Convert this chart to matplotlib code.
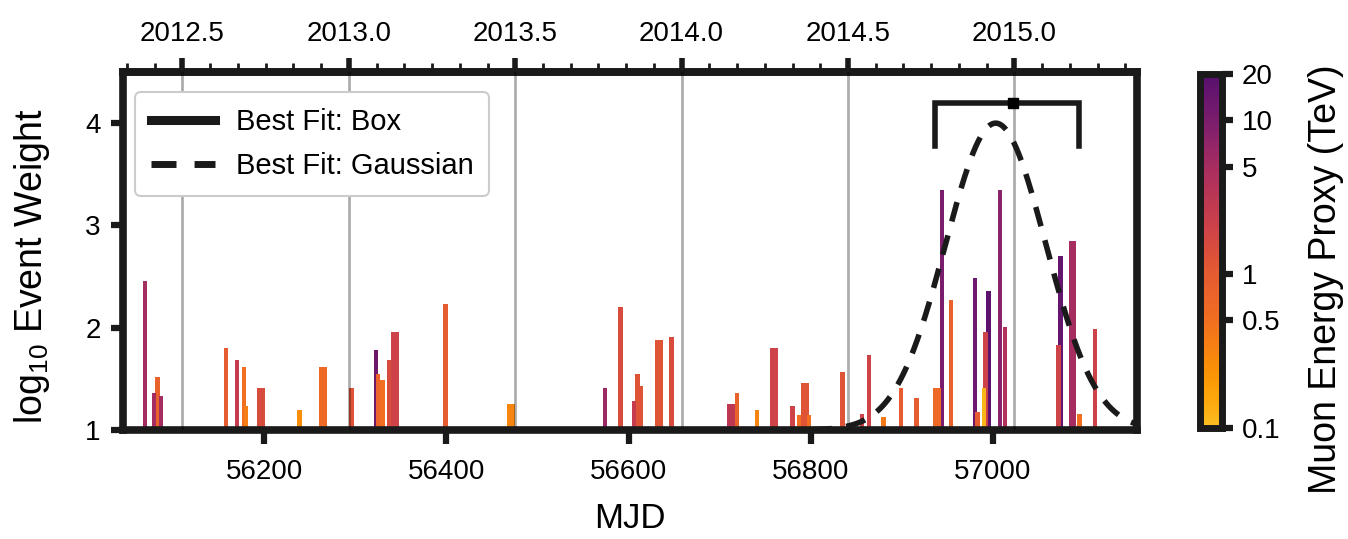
import numpy as np
import matplotlib
matplotlib.use("Agg")
import matplotlib.pyplot as plt
from matplotlib.colors import LogNorm, ListedColormap
from matplotlib.cm import ScalarMappable
from matplotlib.ticker import FixedLocator, MultipleLocator, FormatStrFormatter, NullLocator

plt.rcParams['font.family'] = ['Liberation Sans', 'DejaVu Sans']
plt.rcParams['mathtext.fontset'] = 'custom'
plt.rcParams['mathtext.rm'] = 'Liberation Sans'
plt.rcParams['mathtext.default'] = 'regular'

# Events: arrival time (MJD), log10 event weight, muon energy proxy (TeV)
event_mjd = [56069, 56079, 56083, 56087, 56158, 56170, 56178, 56180, 56195, 56199,
             56239, 56263, 56267, 56296, 56323, 56325, 56330, 56337, 56342, 56346,
             56399, 56469, 56473, 56574, 56591, 56606, 56610, 56613, 56631, 56635,
             56647, 56710, 56714, 56719, 56741, 56758, 56762, 56780, 56787, 56792,
             56796, 56798, 56835, 56856, 56864, 56880, 56899, 56916, 56937, 56941,
             56944, 56954, 56980, 56983, 56990, 56992, 56995, 57008, 57013, 57072,
             57074, 57086, 57089, 57095, 57112]
event_logw = [2.46, 1.36, 1.52, 1.33, 1.80, 1.68, 1.62, 1.23, 1.41, 1.41,
              1.20, 1.62, 1.62, 1.41, 1.78, 1.55, 1.49, 1.68, 1.96, 1.96,
              2.23, 1.25, 1.25, 1.41, 2.20, 1.28, 1.55, 1.43, 1.88, 1.88,
              1.91, 1.25, 1.25, 1.36, 1.20, 1.80, 1.80, 1.23, 1.15, 1.46,
              1.46, 1.15, 1.57, 1.16, 1.73, 1.13, 1.41, 1.31, 1.41, 1.41,
              3.35, 2.27, 2.49, 1.18, 1.41, 1.96, 2.36, 3.35, 2.01, 1.83,
              2.70, 2.85, 2.85, 1.16, 1.99]
event_energy = [5, 5, 0.8, 5, 1.0, 2.5, 0.5, 0.35, 1.5, 1.5,
                0.25, 0.6, 0.6, 1.2, 13, 0.7, 0.5, 1.5, 2, 2,
                1.0, 0.3, 0.3, 6, 1.5, 2.5, 1.2, 1.2, 1.2, 1.2,
                1.5, 3, 3, 0.8, 0.3, 2, 2, 2, 0.5, 1.2,
                1.2, 0.5, 1.2, 2, 2, 0.4, 1.0, 1.0, 0.6, 0.6,
                10, 0.8, 13, 1.0, 0.12, 2, 17, 8, 4, 2,
                15, 5, 5, 0.5, 2]

# Best-fit time windows
box_start, box_end, box_center = 56936, 57094, 57022
box_top, box_foot = 4.2, 3.78
gauss_mean, gauss_sigma, gauss_peak = 57003, 55.0, 4.0

mjd_ticks = [56200, 56400, 56600, 56800, 57000]
year_ticks = [2012.5, 2013.0, 2013.5, 2014.0, 2014.5, 2015.0]
weight_ticks = [1, 2, 3, 4]
energy_ticks = [0.1, 0.5, 1, 5, 10, 20]
energy_labels = ['0.1', '0.5', '1', '5', '10', '20']

MJD_2013 = 56293.0


def mjd_to_year(m):
    return 2013.0 + (np.asarray(m, dtype=float) - MJD_2013) / 365.25


def year_to_mjd(y):
    return MJD_2013 + (np.asarray(y, dtype=float) - 2013.0) * 365.25


# slice of inferno running yellow -> purple over the log energy range
frac = np.linspace(0, 1, 256)
shade = np.interp(frac, [0, 0.304, 0.435, 0.738, 0.869, 1.0],
                  [0.85, 0.68, 0.63, 0.45, 0.34, 0.25])
cmap = ListedColormap(plt.cm.inferno(shade))
norm = LogNorm(vmin=0.1, vmax=20)

fig = plt.figure(figsize=(13.48, 5.39), dpi=100)
ax = fig.add_axes([0.0912, 0.2022, 0.7522, 0.6642])
xlo, xhi = 56045, 57158
ax.set_xlim(xlo, xhi)
ax.set_ylim(1, 4.5)

# year boundaries
for yr in year_ticks:
    ax.axvline(year_to_mjd(yr), color='black', alpha=0.32, lw=2.0, zorder=3)

# event bars, tallest first so short ones stay visible in front
order = np.argsort(event_logw)[::-1]
for k, i in enumerate(order):
    ax.bar(event_mjd[i], event_logw[i] - 1, bottom=1, width=4.8,
           color=cmap(norm(event_energy[i])), linewidth=0, zorder=2 + k * 1e-3)

# best fits
tt = np.linspace(xlo, xhi, 800)
gauss = 1 + (gauss_peak - 1) * np.exp(-0.5 * ((tt - gauss_mean) / gauss_sigma) ** 2)
ax.plot(tt, gauss, color='#1a1a1a', lw=4.0, ls=(0, (3.6, 2.6)), zorder=5)
ax.plot([box_start, box_start, box_end, box_end], [box_foot, box_top, box_top, box_foot],
        color='#1a1a1a', lw=4.0, solid_joinstyle='miter', zorder=5)
ax.plot([box_center], [box_top], marker='s', color='black', ms=7, zorder=6)

h_box, = ax.plot([], [], color='#1a1a1a', lw=6.5)
h_gau, = ax.plot([], [], color='#1a1a1a', lw=5.0, ls=(0, (3.6, 2.6)))
leg = ax.legend([h_box, h_gau], ['Best Fit: Box', 'Best Fit: Gaussian'],
                loc='upper left', bbox_to_anchor=(0.0118, 0.944), borderaxespad=0,
                fontsize=21, handlelength=2.2, handletextpad=0.7, labelspacing=0.55,
                borderpad=0.55, fancybox=True, framealpha=1, edgecolor='#cccccc')
leg.get_frame().set_linewidth(1.5)
leg.set_zorder(10)

for s in ax.spines.values():
    s.set_linewidth(5.5)
    s.set_color('#1a1a1a')

ax.xaxis.set_major_locator(FixedLocator(mjd_ticks))
ax.yaxis.set_major_locator(FixedLocator(weight_ticks))
ax.tick_params(axis='x', which='major', direction='out', length=10, width=4.5,
               pad=11, labelsize=20, color='#1a1a1a', top=False)
ax.tick_params(axis='y', which='major', direction='out', length=9, width=4.5,
               pad=7, labelsize=20, color='#1a1a1a')
ax.set_xlabel('MJD', fontsize=25, labelpad=12)
ax.set_ylabel(r'log$_{10}$ Event Weight', fontsize=27)
ax.yaxis.set_label_coords(-0.07, 0.458)

# calendar year axis on top
top = ax.secondary_xaxis('top', functions=(mjd_to_year, year_to_mjd))
top.xaxis.set_major_locator(FixedLocator(year_ticks))
top.xaxis.set_major_formatter(FormatStrFormatter('%.1f'))
top.xaxis.set_minor_locator(MultipleLocator(1 / 12))
top.tick_params(which='major', direction='out', length=10, width=4, pad=8,
                labelsize=20, color='#1a1a1a')
top.tick_params(which='minor', direction='out', length=6.5, width=2, color='#1a1a1a')
top.spines['top'].set_linewidth(5.5)
top.spines['top'].set_color('#1a1a1a')

# energy colour bar
cax = fig.add_axes([0.8905, 0.2059, 0.0160, 0.6568])
cb = fig.colorbar(ScalarMappable(norm=norm, cmap=cmap), cax=cax)
cb.set_ticks(energy_ticks)
cb.set_ticklabels(energy_labels)
cax.yaxis.set_minor_locator(NullLocator())
cb.outline.set_linewidth(5)
cb.outline.set_edgecolor('#1a1a1a')
cax.tick_params(which='major', length=8, width=4.5, pad=6, labelsize=20, color='#1a1a1a')
cb.set_label('Muon Energy Proxy (TeV)', fontsize=27, labelpad=14)
cax.yaxis.set_label_coords(5.0, 0.42)

fig.savefig('out.png', dpi=100)
